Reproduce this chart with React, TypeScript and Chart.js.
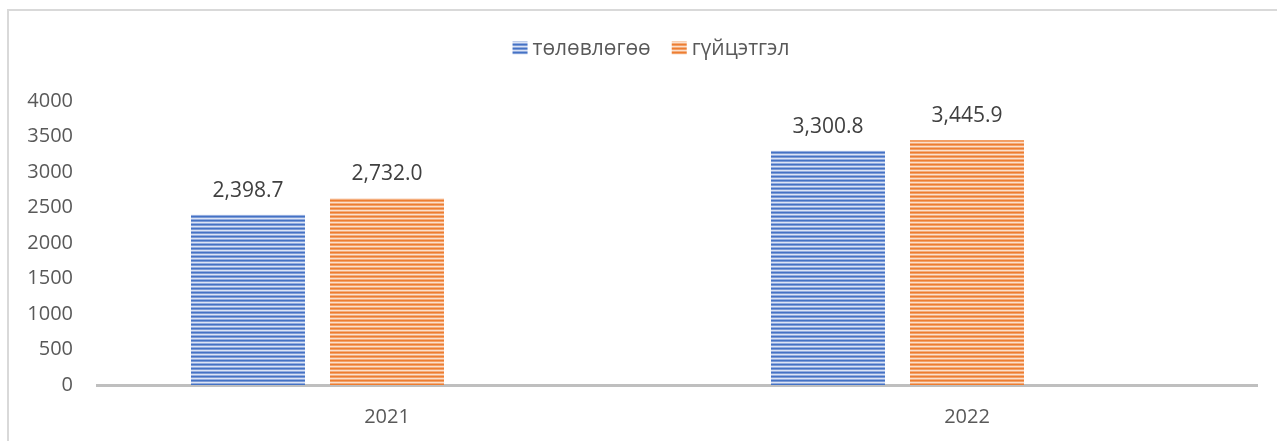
import React, { useEffect, useRef } from "react";
import { Chart, registerables } from "chart.js";

Chart.register(...registerables);

const categories = ["2021", "2022"];
const seriesNames = ["төлөвлөгөө", "гүйцэтгэл"];
const planValues = [2398.7, 3300.8];
const actualValues = [2632, 3445.9];
const planLabels = ["2,398.7", "3,300.8"];
const actualLabels = ["2,732.0", "3,445.9"];
const emptySeries = [null, null];
const yMin = 0;
const yMax = 4000;
const yStep = 500;

const FONT = "'Open Sans', 'Liberation Sans', sans-serif";
const W = 1277;
const H = 441;

function makeStripe(colors: string[]): CanvasPattern | string {
  const c = document.createElement("canvas");
  c.width = 4;
  c.height = colors.length;
  const g = c.getContext("2d");
  if (!g) return colors[0];
  colors.forEach((col, i) => {
    g.fillStyle = col;
    g.fillRect(0, i, 4, 1);
  });
  const p = g.createPattern(c, "repeat");
  return p || colors[0];
}

export default function App() {
  const ref = useRef<HTMLCanvasElement | null>(null);

  useEffect(() => {
    if (!ref.current) return;
    const bluePat = makeStripe(["#4472c4", "#7d9bd6", "#dbe4f5", "#93acdf"]);
    const orangePat = makeStripe(["#ed7d31", "#f2a068", "#fbe0cd", "#f4ad7c"]);
    const valueLabels = [planLabels, actualLabels];
    const fills = [bluePat, orangePat];

    const framePlugin = {
      id: "frame",
      beforeDraw(chart: any) {
        const ctx = chart.ctx;
        ctx.save();
        ctx.fillStyle = "#ffffff";
        ctx.fillRect(0, 0, W, H);
        ctx.strokeStyle = "#d9d9d9";
        ctx.lineWidth = 2;
        ctx.beginPath();
        ctx.moveTo(8, H);
        ctx.lineTo(8, 10);
        ctx.lineTo(W, 10);
        ctx.stroke();
        ctx.restore();
      },
    };

    const legendPlugin = {
      id: "customLegend",
      afterDraw(chart: any) {
        const ctx = chart.ctx;
        ctx.save();
        ctx.font = `21px ${FONT}`;
        const boxW = 15;
        const boxH = 13;
        const gapText = 5;
        const gapItem = 21;
        const widths = seriesNames.map((n) => boxW + gapText + ctx.measureText(n).width);
        const total = widths.reduce((a, b) => a + b, 0) + gapItem * (seriesNames.length - 1);
        let x = 651 - total / 2;
        const cy = 48;
        seriesNames.forEach((n, i) => {
          ctx.fillStyle = fills[i];
          ctx.fillRect(x, cy - boxH / 2, boxW, boxH);
          ctx.fillStyle = "#595959";
          ctx.textAlign = "left";
          ctx.textBaseline = "middle";
          ctx.fillText(n, x + boxW + gapText, cy + 1);
          x += widths[i] + gapItem;
        });
        ctx.restore();
      },
    };

    const labelPlugin = {
      id: "valueLabels",
      afterDatasetsDraw(chart: any) {
        const ctx = chart.ctx;
        ctx.save();
        ctx.font = `21px ${FONT}`;
        ctx.fillStyle = "#404040";
        ctx.textAlign = "center";
        ctx.textBaseline = "middle";
        [0, 1].forEach((di) => {
          const meta = chart.getDatasetMeta(di);
          meta.data.forEach((el: any, i: number) => {
            ctx.fillText(valueLabels[di][i], el.x, el.y - 24);
          });
        });
        ctx.restore();
      },
    };

    const chart = new Chart(ref.current, {
      type: "bar",
      data: {
        labels: categories,
        datasets: [
          {
            label: seriesNames[0],
            data: planValues,
            backgroundColor: bluePat as any,
            borderWidth: 0,
          },
          {
            label: seriesNames[1],
            data: actualValues,
            backgroundColor: orangePat as any,
            borderWidth: 0,
          },
          {
            label: "",
            data: emptySeries as any,
            backgroundColor: "rgba(0,0,0,0)",
            borderWidth: 0,
          },
        ],
      },
      options: {
        responsive: false,
        animation: false,
        devicePixelRatio: 1,
        categoryPercentage: 0.719,
        barPercentage: 0.82,
        layout: { padding: { left: 0, right: 20, top: 101, bottom: 0 } },
        plugins: {
          legend: { display: false },
          tooltip: { enabled: false },
          title: { display: false },
        },
        scales: {
          x: {
            grid: { display: false, drawTicks: false },
            border: { display: true, color: "#bfbfbf", width: 3 },
            ticks: { color: "#595959", font: { family: FONT, size: 20 }, padding: 20 },
            afterFit: (s: any) => {
              s.height = 56;
            },
          },
          y: {
            min: yMin,
            max: yMax,
            grid: { display: false, drawTicks: false },
            border: { display: false },
            ticks: {
              stepSize: yStep,
              color: "#595959",
              font: { family: FONT, size: 20 },
              padding: 24,
              callback: (v: any) => String(v),
            },
            afterFit: (s: any) => {
              s.width = 97;
            },
          },
        },
      } as any,
      plugins: [framePlugin, legendPlugin, labelPlugin],
    });
    return () => chart.destroy();
  }, []);

  return (
    <div style={{ position: "fixed", left: 0, top: 0, width: W, height: H }}>
      <canvas ref={ref} width={W} height={H} style={{ display: "block", width: W, height: H }} />
    </div>
  );
}
